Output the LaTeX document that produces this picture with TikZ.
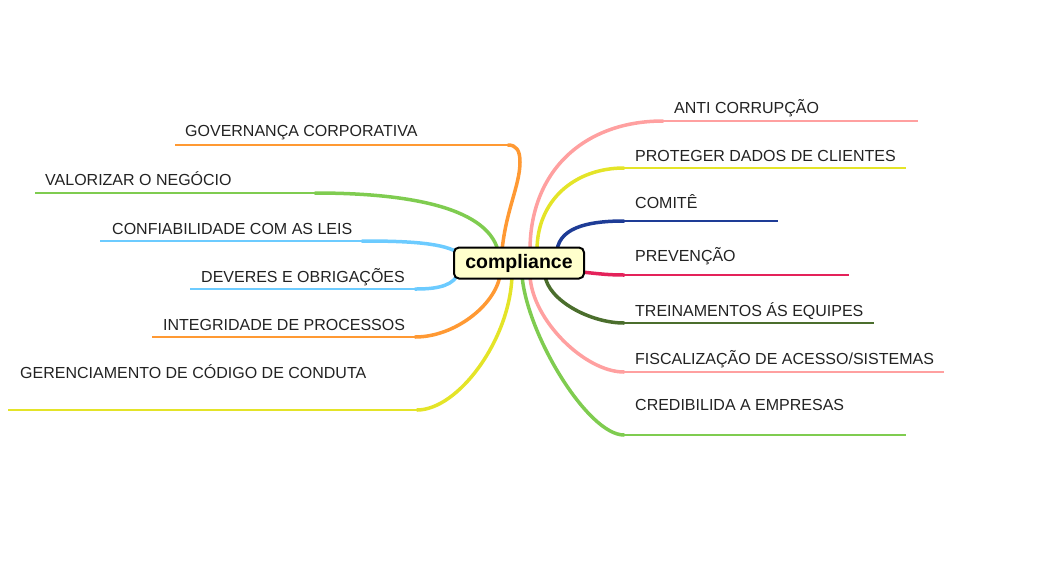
\documentclass[tikz,border=0pt]{standalone}
\usepackage{fontspec}
\setmainfont{Liberation Sans}
\usetikzlibrary{arrows.meta,backgrounds}

\definecolor{mmpink}{RGB}{255,160,160}
\definecolor{mmyellow}{RGB}{228,228,40}
\definecolor{mmblue}{RGB}{30,60,150}
\definecolor{mmred}{RGB}{228,34,90}
\definecolor{mmdkgreen}{RGB}{75,110,45}
\definecolor{mmgreen}{RGB}{127,204,80}
\definecolor{mmorange}{RGB}{255,153,51}
\definecolor{mmsky}{RGB}{108,203,255}
\definecolor{mmroot}{RGB}{255,255,204}
\definecolor{mmtext}{RGB}{34,34,34}

\tikzset{
  topic/.style={anchor=base west, inner sep=0pt, text=mmtext,
    font=\fontsize{16}{18}\selectfont},
  root/.style={draw=black, line width=2pt, fill=mmroot, rounded corners=5pt,
    minimum width=130pt, minimum height=31pt, inner sep=0pt,
    font=\fontsize{19.5}{22}\selectfont\bfseries},
  stem/.style={line width=3.5pt, line cap=round},
  rule/.style={line width=2pt},
}

\begin{document}
\begin{tikzpicture}[x=1pt, y=-1pt]
      \useasboundingbox (0,0) rectangle (1038,566);
      \node[root] (root) at (519,263) {compliance};

      % right side
      \node[topic] (anti) at (674,113) {ANTI CORRUPÇÃO};
      \node[topic] (dados) at (635,161.5) {PROTEGER DADOS DE CLIENTES};
      \node[topic] (comite) at (635,208) {COMITÊ};
      \node[topic] (prev) at (635,261.5) {PREVENÇÃO};
      \node[topic] (trein) at (635,316) {TREINAMENTOS ÁS EQUIPES};
      \node[topic] (fisc) at (635,364) {FISCALIZAÇÃO DE ACESSO/SISTEMAS};
      \node[topic] (cred) at (635,410.5) {CREDIBILIDA A EMPRESAS};

      % left side
      \node[topic] (gov) at (185,136.5) {GOVERNANÇA CORPORATIVA};
      \node[topic] (valor) at (45,185) {VALORIZAR O NEGÓCIO};
      \node[topic] (conf) at (112,234) {CONFIABILIDADE COM AS LEIS};
      \node[topic] (dev) at (201,282) {DEVERES E OBRIGAÇÕES};
      \node[topic] (integ) at (163,330.5) {INTEGRIDADE DE PROCESSOS};
      \node[topic] (ger) at (20,378) {GERENCIAMENTO DE CÓDIGO DE CONDUTA};

      % line ends
      \coordinate (anti-a) at (663,121);   \coordinate (anti-b) at (918,121);
      \coordinate (dados-a) at (624,168);  \coordinate (dados-b) at (906,168);
      \coordinate (comite-a) at (624,221); \coordinate (comite-b) at (778,221);
      \coordinate (prev-a) at (624,275);   \coordinate (prev-b) at (849,275);
      \coordinate (trein-a) at (624,323);  \coordinate (trein-b) at (874,323);
      \coordinate (fisc-a) at (624,372);   \coordinate (fisc-b) at (944,372);
      \coordinate (cred-a) at (624,435);   \coordinate (cred-b) at (906,435);
      \coordinate (gov-a) at (508,145);    \coordinate (gov-b) at (175,145);
      \coordinate (valor-a) at (315,193);  \coordinate (valor-b) at (35,193);
      \coordinate (conf-a) at (362,241);   \coordinate (conf-b) at (100,241);
      \coordinate (dev-a) at (415,289);    \coordinate (dev-b) at (190,289);
      \coordinate (integ-a) at (415,337);  \coordinate (integ-b) at (152,337);
      \coordinate (ger-a) at (417,410);    \coordinate (ger-b) at (8,410);

      % branches, behind the root
      \begin{scope}[on background layer]
      \draw[mmorange, stem] ([xshift=-17pt,yshift=-4pt]root.north)
            .. controls (506,210) and (520,185) .. (520,162)
            .. controls (520,150) and (516,145) .. (gov-a);
      \draw[mmorange, rule] (gov-a) -- (gov-b);
      \draw[mmgreen, stem] ([xshift=-21pt,yshift=-4pt]root.north)
            .. controls (486,205) and (400,193) .. (valor-a);
      \draw[mmgreen, rule] (valor-a) -- (valor-b);
      \draw[mmsky, stem] ([xshift=4pt,yshift=11pt]root.west)
            .. controls (440,242) and (400,241) .. (conf-a);
      \draw[mmsky, rule] (conf-a) -- (conf-b);
      \draw[mmsky, stem] ([xshift=4pt,yshift=-13pt]root.west)
            .. controls (450,288) and (430,289) .. (dev-a);
      \draw[mmsky, rule] (dev-a) -- (dev-b);
      \draw[mmorange, stem] ([xshift=-19pt,yshift=4pt]root.south)
            .. controls (495,305) and (455,337) .. (integ-a);
      \draw[mmorange, rule] (integ-a) -- (integ-b);
      \draw[mmyellow, stem] ([xshift=-7pt,yshift=4pt]root.south)
            .. controls (510,340) and (458,410) .. (ger-a);
      \draw[mmyellow, rule] (ger-a) -- (ger-b);

      \draw[mmpink, stem] ([xshift=11pt,yshift=-4pt]root.north)
            .. controls (530,170) and (585,121) .. (anti-a);
      \draw[mmpink, rule] (anti-a) -- (anti-b);
      \draw[mmyellow, stem] ([xshift=18pt,yshift=-4pt]root.north)
            .. controls (537,200) and (575,168) .. (dados-a);
      \draw[mmyellow, rule] (dados-a) -- (dados-b);
      \draw[mmblue, stem] ([xshift=38pt,yshift=-4pt]root.north)
            .. controls (560,225) and (595,221) .. (comite-a);
      \draw[mmblue, rule] (comite-a) -- (comite-b);
      \draw[mmred, stem] ([xshift=-3pt,yshift=-9pt]root.east)
            .. controls (600,274) and (610,275) .. (prev-a);
      \draw[mmred, rule] (prev-a) -- (prev-b);
      \draw[mmdkgreen, stem] ([xshift=26pt,yshift=4pt]root.south)
            .. controls (548,300) and (590,323) .. (trein-a);
      \draw[mmdkgreen, rule] (trein-a) -- (trein-b);
      \draw[mmpink, stem] ([xshift=11pt,yshift=4pt]root.south)
            .. controls (532,320) and (585,372) .. (fisc-a);
      \draw[mmpink, rule] (fisc-a) -- (fisc-b);
      \draw[mmgreen, stem] ([xshift=3pt,yshift=4pt]root.south)
            .. controls (527,335) and (588,435) .. (cred-a);
      \draw[mmgreen, rule] (cred-a) -- (cred-b);
      \end{scope}
\end{tikzpicture}
\end{document}
